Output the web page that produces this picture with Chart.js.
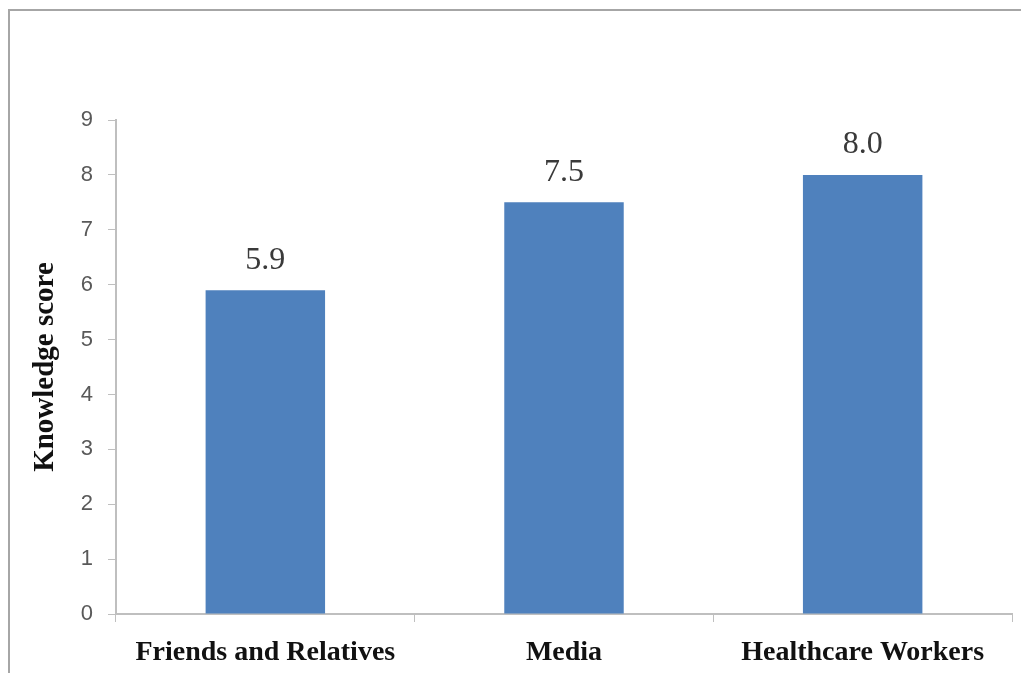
<!DOCTYPE html>
<html>
<head>
<meta charset="utf-8">
<script src="https://cdn.jsdelivr.net/npm/chart.js@4/dist/chart.umd.min.js"></script>
<style>
  html, body { margin: 0; padding: 0; background: #fff; }
  #wrap { width: 1021px; height: 673px; position: relative; }
</style>
</head>
<body>
<div id="wrap"><canvas id="chart"></canvas></div>
<script>
const categories = ['Friends and Relatives', 'Media', 'Healthcare Workers'];
const scores = [5.9, 7.5, 8.0];
const yTicks = [0, 1, 2, 3, 4, 5, 6, 7, 8, 9];

const AXIS_GRAY = '#bfbfbf';
const BAR_BLUE = '#4f81bd';

// frame around the picture (only top and left edges are visible in the crop)
const framePlugin = {
  id: 'frame',
  beforeDraw(chart) {
    const ctx = chart.ctx;
    ctx.save();
    ctx.strokeStyle = '#a6a6a6';
    ctx.lineWidth = 2;
    ctx.beginPath();
    ctx.moveTo(9, chart.height);
    ctx.lineTo(9, 10);
    ctx.lineTo(chart.width, 10);
    ctx.stroke();
    ctx.restore();
  }
};

// value labels above each bar
const valueLabels = {
  id: 'valueLabels',
  afterDatasetsDraw(chart) {
    const ctx = chart.ctx;
    const meta = chart.getDatasetMeta(0);
    ctx.save();
    ctx.font = '32px "Liberation Serif", serif';
    ctx.fillStyle = '#3a3a3a';
    ctx.textAlign = 'center';
    ctx.textBaseline = 'middle';
    meta.data.forEach((bar, i) => {
      ctx.fillText(scores[i].toFixed(1), bar.x, bar.y - 30);
    });
    ctx.restore();
  }
};

new Chart(document.getElementById('chart'), {
  type: 'bar',
  data: {
    labels: categories,
    datasets: [{
      data: scores,
      backgroundColor: BAR_BLUE,
      borderWidth: 0,
      barPercentage: 0.4,
      categoryPercentage: 1.0,
    }],
  },
  options: {
    responsive: true, maintainAspectRatio: false, animation: false,
    layout: { padding: { left: 0, top: 120, right: 9, bottom: 0 } },
    plugins: { legend: { display: false }, tooltip: { enabled: false } },
    scales: {
      x: {
        grid: { drawOnChartArea: false, drawTicks: true, tickLength: 8, color: AXIS_GRAY, offset: true },
        border: { display: true, color: AXIS_GRAY, width: 2 },
        ticks: {
          color: '#111111', padding: 14,
          font: { family: '"Liberation Serif", serif', size: 28, weight: 'bold' },
          maxRotation: 0,
        },
        afterFit(scale) { scale.height = 59; },
      },
      y: {
        min: 0, max: 9,
        afterBuildTicks(scale) { scale.ticks = yTicks.map(v => ({ value: v })); },
        grid: { drawOnChartArea: false, drawTicks: true, tickLength: 8, color: AXIS_GRAY },
        border: { display: true, color: AXIS_GRAY, width: 2 },
        ticks: {
          color: '#595959', padding: 15,
          font: { family: '"Liberation Sans", sans-serif', size: 22 },
        },
        title: {
          display: true, text: 'Knowledge score', color: '#111111',
          font: { family: '"Liberation Serif", serif', size: 29, weight: 'bold' },
          padding: { top: 28, bottom: 0 },
        },
        afterFit(scale) { scale.width = 116; },
      },
    },
  },
  plugins: [framePlugin, valueLabels],
});
</script>
</body>
</html>
